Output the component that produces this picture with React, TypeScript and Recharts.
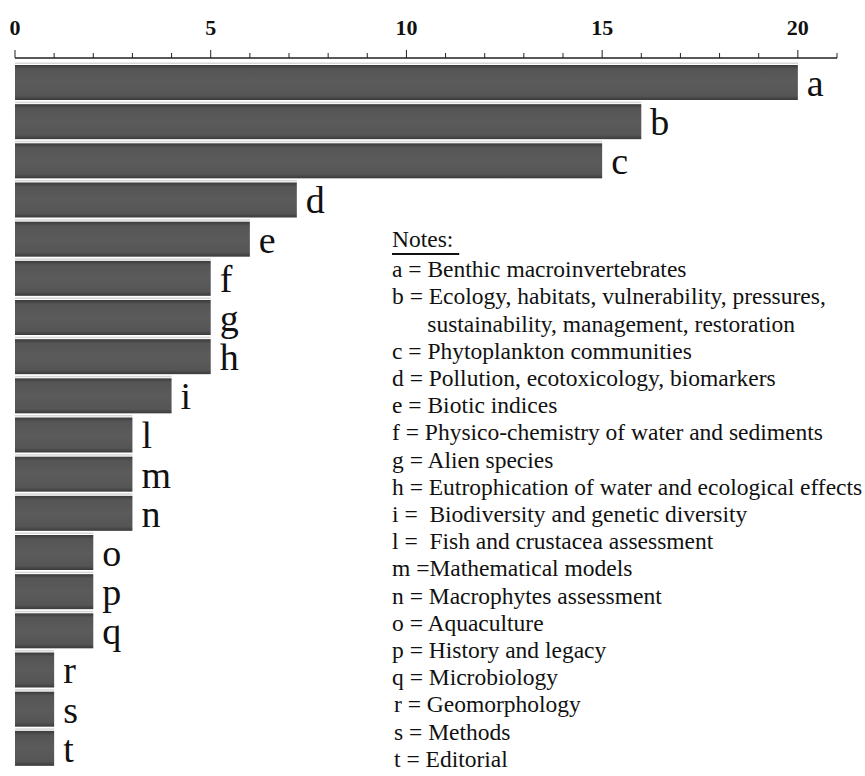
import React from 'react';
import { BarChart, Bar, XAxis, YAxis, LabelList } from 'recharts';

const categories = ['a', 'b', 'c', 'd', 'e', 'f', 'g', 'h', 'i', 'l', 'm', 'n', 'o', 'p', 'q', 'r', 's', 't'];
const counts = [20, 16, 15, 7.2, 6, 5, 5, 5, 4, 3, 3, 3, 2, 2, 2, 1, 1, 1];
const xTicks = [0, 1, 2, 3, 4, 5, 6, 7, 8, 9, 10, 11, 12, 13, 14, 15, 16, 17, 18, 19, 20, 21];
const labelledTicks = [0, 5, 10, 15, 20];

const notes = [
  'a = Benthic macroinvertebrates',
  'b = Ecology, habitats, vulnerability, pressures,',
  '      sustainability, management, restoration',
  'c = Phytoplankton communities',
  'd = Pollution, ecotoxicology, biomarkers',
  'e = Biotic indices',
  'f = Physico-chemistry of water and sediments',
  'g = Alien species',
  'h = Eutrophication of water and ecological effects',
  'i =  Biodiversity and genetic diversity',
  'l =  Fish and crustacea assessment',
  'm =Mathematical models',
  'n = Macrophytes assessment',
  'o = Aquaculture',
  'p = History and legacy',
  'q = Microbiology',
  'r = Geomorphology',
  's = Methods',
  't = Editorial',
];

const data = categories.map((name, i) => ({ name, value: counts[i] }));

const serif = 'Liberation Serif, Times New Roman, serif';

const TopTick = (props: any) => {
  const { x, y, payload } = props;
  const major = labelledTicks.includes(payload.value);
  return (
    <g>
      <line x1={x} x2={x} y1={y} y2={y - (major ? 8 : 5)} stroke="#222" strokeWidth={1} />
      {major && (
        <text x={x} y={y - 23} textAnchor="middle" style={{ fontFamily: serif, fontWeight: 'bold', fontSize: 22 }} fill="#111">
          {payload.value}
        </text>
      )}
    </g>
  );
};

const BarShape = (props: any) => {
  const { x, y, width, height } = props;
  return (
    <g>
      <rect x={x} y={y - 2.5} width={width} height={1.5} fill="#d6d6d6" />
      <rect x={x} y={y} width={width} height={height} fill="url(#barFill)" />
    </g>
  );
};

export default function App() {
  return (
    <div style={{ position: 'absolute', left: 0, top: 0, width: 865, height: 776, background: '#fff', overflow: 'hidden' }}>
      <BarChart
        width={865}
        height={776}
        data={data}
        layout="vertical"
        margin={{ top: 0, right: 28, bottom: 0, left: 15 }}
        barSize={35}
      >
        <defs>
          <linearGradient id="barFill" x1="0" y1="0" x2="0" y2="1">
            <stop offset="0%" stopColor="#3b3b3b" />
            <stop offset="12%" stopColor="#555555" />
            <stop offset="50%" stopColor="#5b5b5b" />
            <stop offset="88%" stopColor="#555555" />
            <stop offset="100%" stopColor="#3a3a3a" />
          </linearGradient>
        </defs>
        <XAxis
          type="number"
          orientation="top"
          domain={[0, 21]}
          ticks={xTicks}
          interval={0}
          height={58}
          tickLine={false}
          tickSize={0}
          tickMargin={0}
          tick={<TopTick />}
          axisLine={{ stroke: '#222', strokeWidth: 1.5 }}
        />
        <YAxis
          type="category"
          dataKey="name"
          width={0}
          tick={false}
          tickLine={false}
          axisLine={{ stroke: '#111', strokeWidth: 2 }}
          padding={{ top: 5, bottom: 8 }}
        />
        <Bar dataKey="value" shape={<BarShape />} isAnimationActive={false}>
          <LabelList
            dataKey="name"
            position="right"
            offset={9}
            fill="#111"
            style={{ fontFamily: serif, fontSize: 38 }}
          />
        </Bar>
      </BarChart>
      <div
        style={{
          position: 'absolute',
          left: 392,
          top: 226,
          fontFamily: serif,
          fontSize: 23.5,
          lineHeight: '27.2px',
          color: '#111',
          whiteSpace: 'pre',
        }}
      >
        <div style={{ marginBottom: 3 }}>
          <span style={{ textDecoration: 'underline', textUnderlineOffset: 6 }}>{'Notes:\u00a0'}</span>
        </div>
        {notes.map((line, i) => (
          <div key={i} style={{ paddingLeft: i >= 16 ? 2 : 0 }}>{line}</div>
        ))}
      </div>
    </div>
  );
}
